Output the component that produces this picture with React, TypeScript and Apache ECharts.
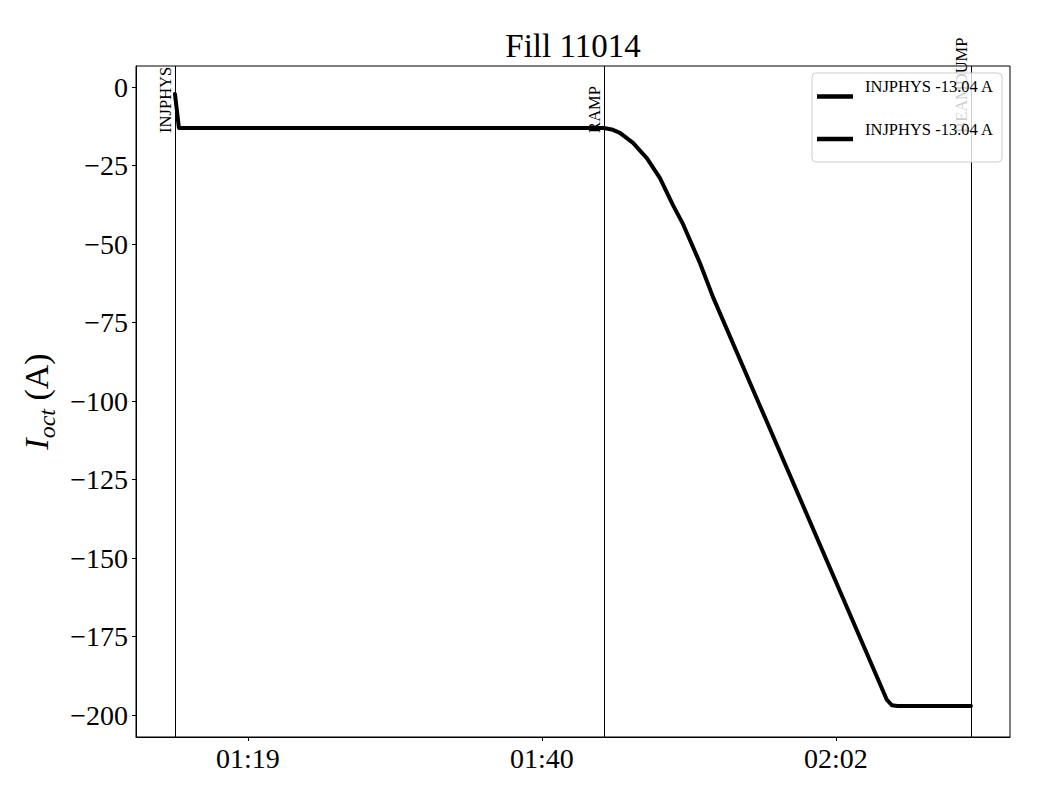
import React, { useEffect, useRef } from "react";
import * as echarts from "echarts";

const titleText = "Fill 11014";
const xTickValues = [19, 40.5, 62];
const xTickLabels = ["01:19", "01:40", "02:02"];
const yTickValues = [0, -25, -50, -75, -100, -125, -150, -175, -200];
const xMin = 10.81;
const xMax = 74.73;
const yMin = -207;
const yMax = 6.7;

// minutes after 01:00, current in A
const currentX = [13.66, 13.95, 45.03, 45.6, 46.2, 47.16, 48.18, 49.13, 50.08, 50.81, 52.06, 53.01, 65.73, 66.1, 66.5, 71.87];
const currentY = [-2.2, -13.04, -13.04, -13.5, -14.6, -17.8, -22.7, -29.0, -37.6, -43.6, -56.1, -66.9, -195.2, -196.9, -197.1, -197.1];

const eventNames = ["INJPHYS", "RAMP", "BEAMDUMP"];
const eventX = [13.66, 45.03, 71.87];
const eventLabelY = -14.6;

const legendLabels = ["INJPHYS -13.04 A", "INJPHYS -13.04 A"];

const FONT = "'Liberation Serif', 'DejaVu Serif', serif";

export default function App() {
  const ref = useRef<HTMLDivElement>(null);

  useEffect(() => {
    if (!ref.current) return;
    const chart = echarts.init(ref.current, null, { renderer: "svg" });
    const data = currentX.map((x, i) => [x, currentY[i]]);
    const fmtY = (v: number) => (v < 0 ? "\u2212" + Math.abs(v) : String(v));

    chart.setOption({
      animation: false,
      backgroundColor: "#ffffff",
      grid: {
        left: 136,
        right: 30,
        top: 66,
        bottom: 63,
        show: true,
        borderColor: "#000",
        borderWidth: 1,
        containLabel: false,
        outerBoundsMode: "none",
      },
      xAxis: {
        type: "value",
        min: xMin,
        max: xMax,
        splitLine: { show: false },
        axisLine: { show: true, onZero: false, lineStyle: { color: "#000", width: 1 } },
        axisTick: {
          show: true,
          customValues: xTickValues,
          length: 4,
          lineStyle: { color: "#000", width: 1 },
        },
        axisLabel: {
          customValues: xTickValues,
          formatter: (v: number) => {
            let best = 0;
            xTickValues.forEach((t, i) => {
              if (Math.abs(t - v) < Math.abs(xTickValues[best] - v)) best = i;
            });
            return xTickLabels[best];
          },
          fontSize: 28,
          fontFamily: FONT,
          color: "#000",
          margin: 7,
        },
      },
      yAxis: {
        type: "value",
        min: yMin,
        max: yMax,
        splitLine: { show: false },
        axisLine: { show: true, onZero: false, lineStyle: { color: "#000", width: 1 } },
        axisTick: {
          show: true,
          customValues: yTickValues,
          length: 4,
          lineStyle: { color: "#000", width: 1 },
        },
        axisLabel: {
          customValues: yTickValues,
          formatter: (v: number) => fmtY(v),
          fontSize: 28,
          fontFamily: FONT,
          color: "#000",
          margin: 8,
        },
        name: "{i|I}{s|oct}{n| (A)}",
        nameLocation: "middle",
        nameGap: 76,
        nameRotate: 90,
        nameTextStyle: {
          fontFamily: FONT,
          color: "#000",
          rich: {
            i: { fontSize: 34, fontStyle: "italic", fontFamily: FONT, color: "#000", verticalAlign: "bottom" },
            s: { fontSize: 24, fontStyle: "italic", fontFamily: FONT, color: "#000", verticalAlign: "bottom", padding: [0, 0, -6, 0] },
            n: { fontSize: 34, fontFamily: FONT, color: "#000", verticalAlign: "bottom" },
          },
        },
      },
      series: [
        {
          type: "line",
          data,
          showSymbol: false,
          symbol: "none",
          lineStyle: { color: "#000", width: 4, cap: "round", join: "round" },
          z: 5,
          markLine: {
            silent: true,
            symbol: "none",
            label: { show: false },
            lineStyle: { color: "#000", width: 1, type: "solid" },
            data: eventX.map((x) => ({ xAxis: x })),
            z: 2,
          },
        },
      ],
    });

    const graphics: any[] = [
      {
        type: "text",
        x: 573,
        y: 46,
        style: {
          text: titleText,
          font: `33px ${FONT}`,
          fill: "#000",
          align: "center",
          verticalAlign: "middle",
        },
      },
    ];

    eventNames.forEach((name, i) => {
      const p = chart.convertToPixel({ xAxisIndex: 0, yAxisIndex: 0 }, [eventX[i], eventLabelY]) as number[];
      graphics.push({
        type: "text",
        x: p[0] - 1,
        y: p[1],
        rotation: Math.PI / 2,
        z: 50,
        style: {
          text: name,
          font: `16.5px ${FONT}`,
          fill: "#000",
          align: "left",
          verticalAlign: "bottom",
        },
      });
    });

    graphics.push({
      type: "rect",
      z: 100,
      shape: { x: 812, y: 73, width: 190, height: 89, r: 4 },
      style: { fill: "rgba(255,255,255,0.8)", stroke: "#cccccc", lineWidth: 1 },
    });
    legendLabels.forEach((lab, i) => {
      const ly = 96.5 + i * 42.5;
      graphics.push({
        type: "line",
        z: 101,
        shape: { x1: 817, y1: ly, x2: 853, y2: ly },
        style: { stroke: "#000", lineWidth: 4.5 },
      });
      graphics.push({
        type: "text",
        z: 101,
        x: 865,
        y: ly - 10,
        style: {
          text: lab,
          font: `16.5px ${FONT}`,
          fill: "#000",
          align: "left",
          verticalAlign: "middle",
        },
      });
    });

    chart.setOption({ graphic: graphics });

    return () => chart.dispose();
  }, []);

  return (
    <div
      ref={ref}
      style={{ position: "fixed", left: 0, top: 0, width: 1040, height: 800, background: "#fff" }}
    />
  );
}
